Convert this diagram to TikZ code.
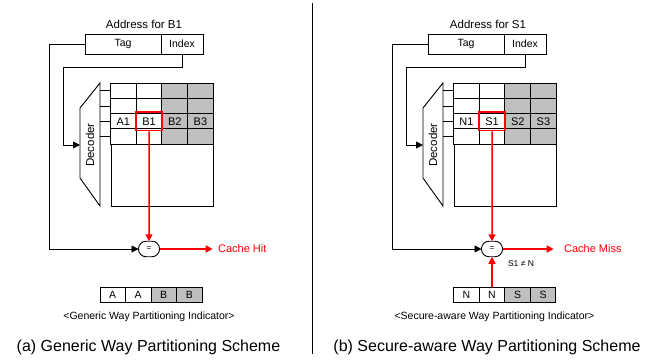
\documentclass[tikz,border=0pt]{standalone}
\usepackage{fontspec}
\setmainfont{Liberation Sans}
\usetikzlibrary{positioning, arrows.meta}

\begin{document}
\begin{tikzpicture}[x=1pt, y=-1pt, line width=0.9pt,
    every node/.style={font=\fontsize{10.5}{12}\selectfont},
    cell/.style={draw, minimum width=25.7pt, minimum height=15.3pt, inner sep=0pt, outer sep=0pt},
    way/.style={cell, fill=black!25},
    bit/.style={cell, minimum width=25.5pt, minimum height=15pt},
    bitway/.style={bit, fill=black!25},
    field/.style={draw, minimum height=20pt, inner sep=0pt, outer sep=0pt},
    cmp/.style={draw, rounded corners=7.5pt, minimum width=21pt, minimum height=15.5pt, inner sep=0pt, outer sep=0pt, font=\fontsize{8}{8}\selectfont},
    sel/.style={draw=red, line width=1.6pt, minimum width=26pt, minimum height=18.5pt, inner sep=0pt},
    tip/.style={-{Triangle[length=7pt, width=7pt]}},
    hit/.style={red, line width=1.5pt, -{Triangle[length=7pt, width=7pt]}},
    title/.style={font=\fontsize{11.5}{13}\selectfont},
    caption/.style={font=\fontsize{16}{18}\selectfont}
  ]
    \useasboundingbox (0,0) rectangle (662,362);

    % Divider between the two schemes
    \draw (312,3) -- (312,354);

    % ---------------- (a) Generic way partitioning ----------------
    \begin{scope}
      % Address fields
      \node[field, minimum width=76pt] (tagA) at (123,44) {Tag};
      \node[field, minimum width=42pt, anchor=west] (idxA) at (tagA.east) {Index};
      \node[title] (addrA) at (144,24) {Address for B1};

      % Decoder
      \draw (80,108) -- (100,83) -- (100,206) -- (80,178) -- cycle;
      \node[rotate=90, font=\fontsize{11.5}{12}\selectfont] (decA) at (90,145) {Decoder};
      \coordinate (inA) at (80,145);

      % Cache sets and ways
      \foreach \c/\s/\t in {1/cell/A1, 2/cell/B1, 3/way/B2, 4/way/B3} {
        \foreach \r in {1,...,4}
          \node[\s] (a\r\c) at ({97.65+25.7*\c},{75.35+15.3*\r}) {};
        \node[font=\fontsize{11}{12}\selectfont] (ta\c) at (a3\c) {\t};
      }
      \node[draw, anchor=north west, minimum width=102.8pt, minimum height=61.8pt, inner sep=0pt] (bodyA) at (a41.south west) {};
      \foreach \r in {1,...,4}
        \draw (a\r1.west) -- ++(-10.5,0);
      \node[sel] (selA) at (a32) {};

      % Compare
      \node[cmp] (cmpA) at (149,249) {=};
      \node[red, anchor=west, inner sep=0pt, font=\fontsize{11}{12}\selectfont] (resA) at (217.7,249) {Cache Hit};
      \coordinate (cornA) at (49,44);
      \draw[tip] (tagA.west) -- (cornA) |- (cmpA.west);
      \draw[tip] (idxA.south) -- ++(0,13) -| (63,145) -- (inA);
      \draw[hit] (selA.south) -- (cmpA.north);
      \draw[hit, shorten >=5pt] (cmpA.east) -- (resA.west);

      % Partitioning indicator
      \foreach \c/\s/\t in {1/bit/A, 2/bit/A, 3/bitway/B, 4/bitway/B}
        \node[\s] (indA\c) at ({87.25+25.5*\c},294.5) {\t};
      \node (indlA) at (149,317) {<Generic Way Partitioning Indicator>};
      \node[caption] (capA) at (148.5,347) {(a) Generic Way Partitioning Scheme};
    \end{scope}

    % ---------------- (b) Secure-aware way partitioning ----------------
    \begin{scope}[xshift=343pt]
      % Address fields
      \node[field, minimum width=76pt] (tagB) at (123,44) {Tag};
      \node[field, minimum width=42pt, anchor=west] (idxB) at (tagB.east) {Index};
      \node[title] (addrB) at (145,24) {Address for S1};

      % Decoder
      \draw (80,108) -- (100,83) -- (100,206) -- (80,178) -- cycle;
      \node[rotate=90, font=\fontsize{11.5}{12}\selectfont] (decB) at (90,145) {Decoder};
      \coordinate (inB) at (80,145);

      % Cache sets and ways
      \foreach \c/\s/\t in {1/cell/N1, 2/cell/S1, 3/way/S2, 4/way/S3} {
        \foreach \r in {1,...,4}
          \node[\s] (b\r\c) at ({97.65+25.7*\c},{75.35+15.3*\r}) {};
        \node[font=\fontsize{11}{12}\selectfont] (tb\c) at (b3\c) {\t};
      }
      \node[draw, anchor=north west, minimum width=102.8pt, minimum height=61.8pt, inner sep=0pt] (bodyB) at (b41.south west) {};
      \foreach \r in {1,...,4}
        \draw (b\r1.west) -- ++(-10.5,0);
      \node[sel] (selB) at (b32) {};

      % Compare
      \node[cmp] (cmpB) at (149,249) {=};
      \node[red, anchor=west, inner sep=0pt, font=\fontsize{11}{12}\selectfont] (resB) at (220.7,249) {Cache Miss};
      \node[font=\fontsize{8.5}{9}\selectfont] (neqB) at (178,264) {S1 ≠ N};
      \coordinate (cornB) at (49,44);
      \draw[tip] (tagB.west) -- (cornB) |- (cmpB.west);
      \draw[tip] (idxB.south) -- ++(0,13) -| (63,145) -- (inB);
      \draw[hit] (selB.south) -- (cmpB.north);
      \draw[hit, shorten >=10pt] (cmpB.east) -- (resB.west);

      % Partitioning indicator
      \foreach \c/\s/\t in {1/bit/N, 2/bit/N, 3/bitway/S, 4/bitway/S}
        \node[\s] (indB\c) at ({98+25.5*\c},294.5) {\t};
      \draw[hit] (indB2.north) -- (cmpB.south);
      \node (indlB) at (151.5,317) {<Secure-aware Way Partitioning Indicator>};
      \node[caption] (capB) at (144,347) {(b) Secure-aware Way Partitioning Scheme};
    \end{scope}
\end{tikzpicture}
\end{document}
